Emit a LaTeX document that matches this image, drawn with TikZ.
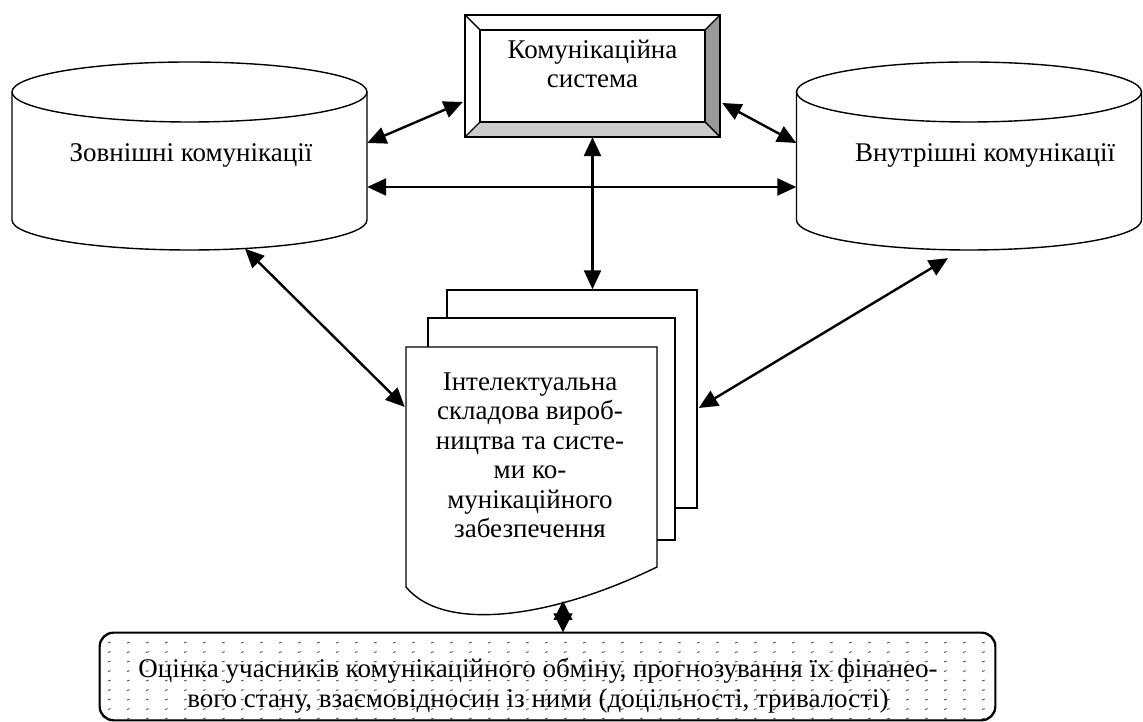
\documentclass[tikz,border=0pt]{standalone}
\usepackage{fontspec}
\setmainfont{Liberation Serif}
\usetikzlibrary{arrows.meta,calc}
\tikzset{
  shp/.style={line width=1.4pt},
  txt/.style={font=\fontsize{27}{29.5}\selectfont, inner sep=0pt, align=center},
  hold/.style={draw=none, inner sep=0pt, minimum width=#1},
  link/.style={line width=2.4pt, {Triangle[length=19pt,width=17pt]}-{Triangle[length=19pt,width=17pt]}},
  dotpat/.style={black!70, line width=0.9pt}
}
\begin{document}
\begin{tikzpicture}[x=1pt,y=1pt]
\useasboundingbox (0,0) rectangle (1143,722);

% ---------- left cylinder ----------
\node[hold=355, minimum height=190] (ext) at (189.5,567) {};
\draw[shp, fill=white] (12,630) -- (12,502) arc[start angle=180,end angle=360,x radius=177.5,y radius=30] -- (367,630);
\draw[shp] (189.5,630) ellipse[x radius=177.5, y radius=30];
\node[txt, anchor=base] (extT) at (191,560) {Зовнішні комунікації};

% ---------- right cylinder ----------
\node[hold=345, minimum height=190] (int) at (969,567) {};
\draw[shp, fill=white] (796.5,630) -- (796.5,502) arc[start angle=180,end angle=360,x radius=172.5,y radius=30] -- (1141.5,630);
\draw[shp] (969,630) ellipse[x radius=172.5, y radius=30];
\node[txt, anchor=base] (intT) at (985,560) {Внутрішні комунікації};

% ---------- communication system (bevel box) ----------
\node[hold=255, minimum height=122] (cs) at (592.5,646) {};
\fill[white] (465,707) -- (720,707) -- (705,692) -- (480,692) -- cycle;
\fill[white] (465,707) -- (480,692) -- (480,600) -- (465,585) -- cycle;
\fill[black!40] (720,707) -- (720,585) -- (705,600) -- (705,692) -- cycle;
\fill[black!20] (465,585) -- (720,585) -- (705,600) -- (480,600) -- cycle;
\draw[shp] (465,585) rectangle (720,707);
\draw[shp] (480,600) rectangle (705,692);
\draw[shp] (465,707) -- (480,692) (720,707) -- (705,692) (720,585) -- (705,600) (465,585) -- (480,600);
\node[txt, anchor=base] (csT) at (592.5,634) {Комунікаційна\\система};

% ---------- document stack ----------
\node[hold=250, minimum height=218, draw, fill=white, shp] (doc3) at (572,323) {};
\node[hold=247, minimum height=222, draw, fill=white, shp] (doc2) at (551.5,293) {};
\node[hold=251, minimum height=240] (doc1) at (531.5,255) {};
\draw[shp, fill=white] (406,375) -- (657,375) -- (657,155) .. controls (555,105) and (445,88) .. (406,135) -- cycle;
\node[txt, anchor=base] (docT) at (530,184) {Інтелектуальна\\складова вироб-\\ництва та систе-\\ми ко-\\мунікаційного\\забезпечення};
\coordinate (wave) at (563,121);

% ---------- evaluation box ----------
\node[hold=895, minimum height=87, draw, shp, rounded corners=14pt, fill=white] (eval) at (547.5,45.5) {};
\begin{scope}
  \clip[rounded corners=14pt] (eval.south west) rectangle (eval.north east);
  \foreach \i in {0,...,47} \foreach \j in {0,...,8}
    \draw[dotpat] (108+\i*19, 79-\j*9.5) -- ++(2.6,0.9);
\end{scope}
\draw[shp, rounded corners=14pt] (eval.south west) rectangle (eval.north east);
\node[txt, anchor=base, font=\fontsize{27}{30}\selectfont] (evalT) at (538,14) {Оцінка учасників комунікаційного обміну, прогнозування їх фінанео-\\вого стану, взаємовідносин із ними (доцільності, тривалості)};

% ---------- connectors ----------
\draw[link] ($(ext.east)+(0,12)$) -- ($(cs.west)+(-2,-26)$);
\draw[link] ($(cs.east)+(2,-27)$) -- ($(int.west)+(0,12)$);
\draw[link] ($(ext.east)+(0,-32)$) -- ($(int.west)+(0,-32)$);
\draw[link] (cs.south) -- (cs.south |- doc3.north);
\draw[link] ($(ext.south)+(55.5,1.5)$) -- ($(doc1.west)+(-1,60)$);
\draw[link] ($(int.south)+(-21,-8)$) -- ($(doc3.east)+(1,-9)$);
\draw[line width=1pt, {Triangle[length=19pt,width=19pt]}-{Triangle[length=19pt,width=19pt]}] (wave) -- (wave |- eval.north);
\end{tikzpicture}
\end{document}
